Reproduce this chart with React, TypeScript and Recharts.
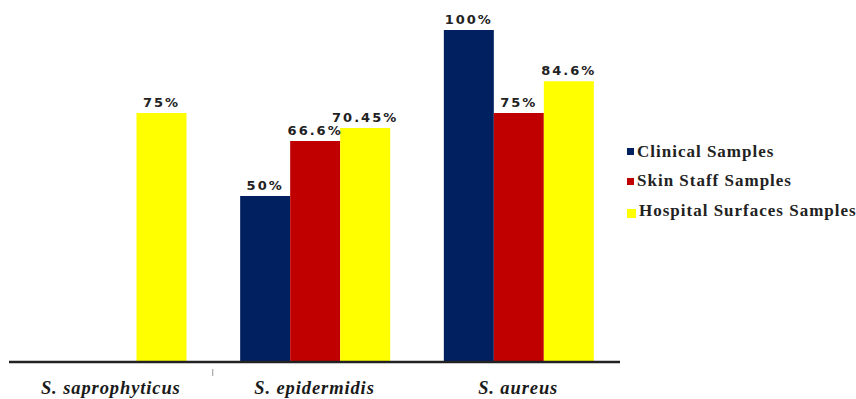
import { BarChart, Bar, XAxis, YAxis, LabelList } from 'recharts';

const categories = ['S. saprophyticus', 'S. epidermidis', 'S. aureus'];
const clinical = [null, 50, 100];
const skinStaff = [null, 66.6, 75];
const hospitalSurfaces = [75, 70.45, 84.6];

const series = [
  { key: 'clinical', name: 'Clinical Samples', color: '#002060' },
  { key: 'skin', name: 'Skin Staff Samples', color: '#C00000' },
  { key: 'hospital', name: 'Hospital Surfaces Samples', color: '#FFFF00' },
];

const data = categories.map((name, i) => ({
  name,
  clinical: clinical[i],
  skin: skinStaff[i],
  hospital: hospitalSurfaces[i],
}));

const BAND = 203.5;

function CategoryTick({ x, y, payload, index }: any) {
  return (
    <g>
      {index === 1 && (
        <line x1={x - BAND / 2} x2={x - BAND / 2} y1={y - 1} y2={y + 6} stroke="#999" strokeWidth={1} />
      )}
      <text
        x={x}
        y={y + 24}
        textAnchor="middle"
        style={{
          fontFamily: '"Liberation Serif", serif',
          fontStyle: 'italic',
          fontWeight: 700,
          fontSize: 18.5,
          letterSpacing: 0.9,
          fill: '#1a1a1a',
        }}
      >
        {payload.value}
      </text>
    </g>
  );
}

export default function App() {
  return (
    <div style={{ position: 'absolute', left: 0, top: 0, width: 856, height: 399, background: '#fff' }}>
      <BarChart
        width={856}
        height={399}
        data={data}
        margin={{ top: 30, right: 236, bottom: 0, left: 9 }}
        barCategoryGap="13.5%"
        barGap={0}
      >
        <XAxis
          dataKey="name"
          height={37}
          tickLine={false}
          axisLine={{ stroke: '#222', strokeWidth: 2.5 }}
          tick={<CategoryTick />}
          interval={0}
        />
        <YAxis hide domain={[0, 100]} />
        {series.map((s) => (
          <Bar key={s.key} dataKey={s.key} name={s.name} fill={s.color} isAnimationActive={false}>
            <LabelList
              dataKey={s.key}
              position="top"
              offset={6}
              formatter={(v: any) => (v == null ? '' : `${v}%`)}
              style={{
                fontFamily: '"DejaVu Sans", sans-serif',
                fontWeight: 700,
                fontSize: 13,
                letterSpacing: 2,
                fill: '#222',
              }}
            />
          </Bar>
        ))}
      </BarChart>
      <div style={{ position: 'absolute', left: 627, top: 137 }}>
        {series.map((s, i) => (
          <div
            key={s.key}
            style={{
              display: 'flex',
              alignItems: 'center',
              height: 29.5,
              fontFamily: '"Liberation Serif", serif',
              fontWeight: 700,
              fontSize: 17,
              letterSpacing: 1,
              color: '#222',
              whiteSpace: 'nowrap',
            }}
          >
            <span
              style={{
                display: 'inline-block',
                width: i === 2 ? 9 : 7,
                height: i === 2 ? 9 : 7,
                background: s.color,
                marginRight: 3,
                marginTop: i === 2 ? 6 : 0,
              }}
            />
            {s.name}
          </div>
        ))}
      </div>
    </div>
  );
}
